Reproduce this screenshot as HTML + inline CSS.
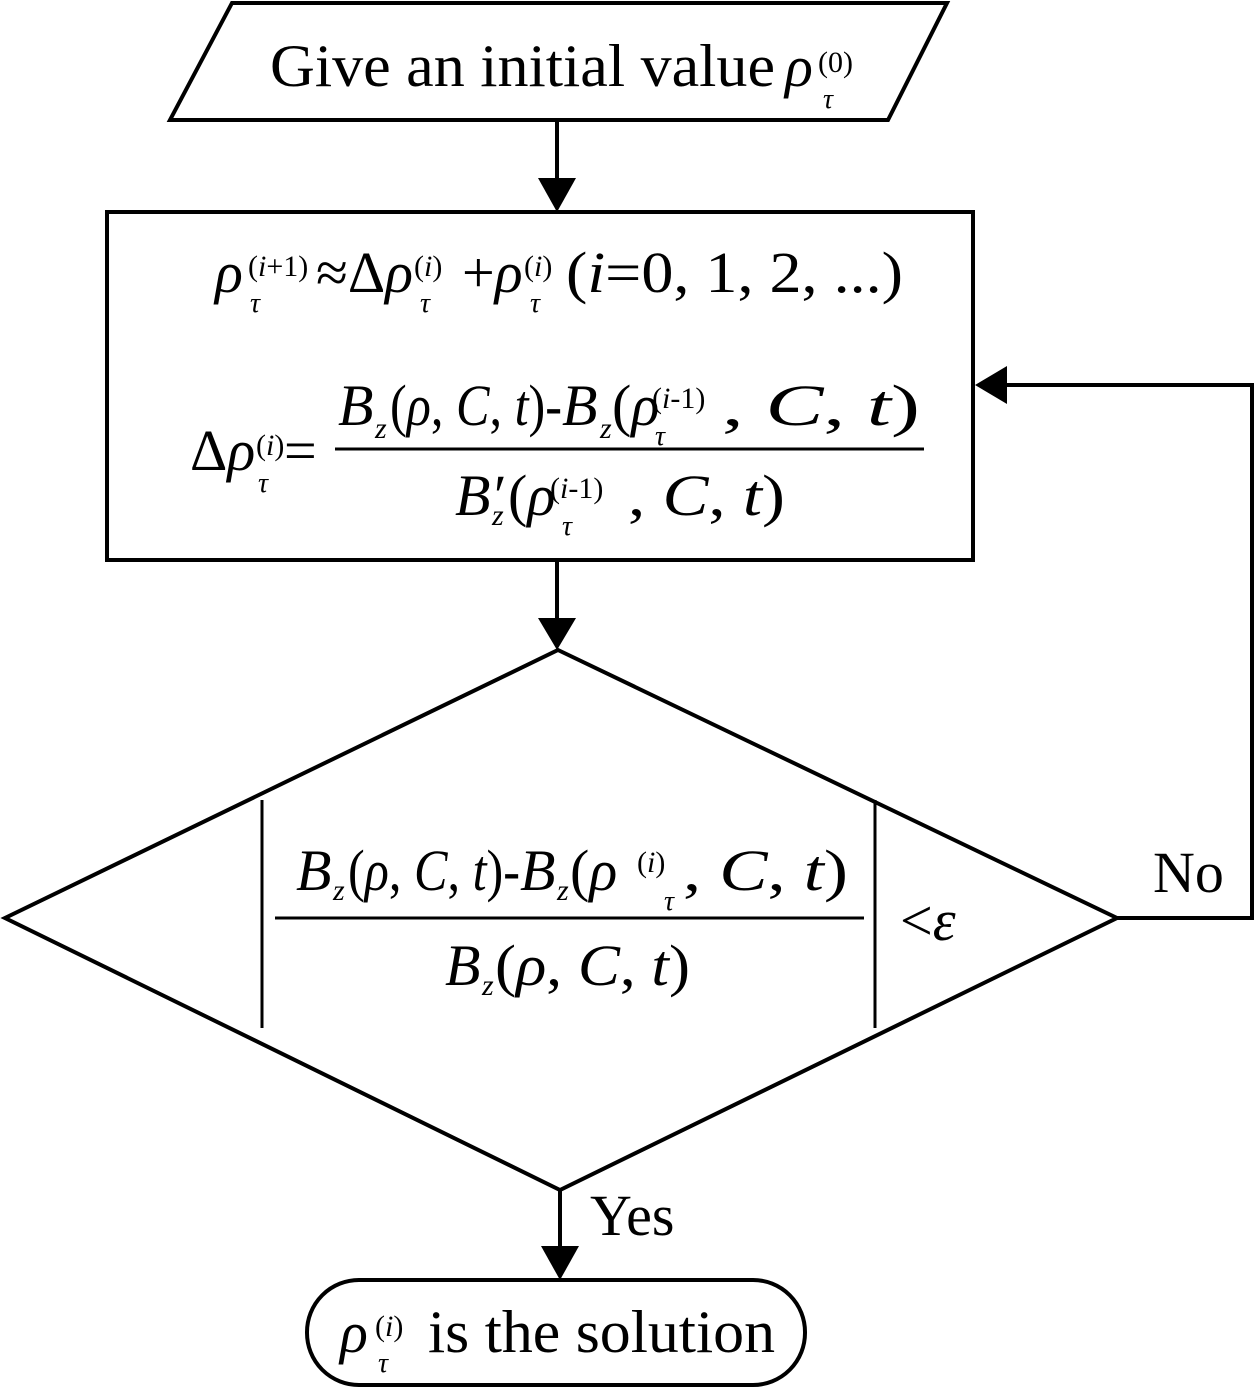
<!DOCTYPE html>
<html><head><meta charset="utf-8"><style>html,body{margin:0;padding:0;background:#fff}svg{display:block}text{font-family:"Liberation Serif",serif;fill:#000}.i{font-style:italic}</style></head><body>
<svg width="1257" height="1389" viewBox="0 0 1257 1389" xmlns="http://www.w3.org/2000/svg">
<g fill="none" stroke="#000" stroke-width="4">
<polygon points="232,3 947,3 888,120 170,120"/>
<rect x="107" y="212" width="866" height="348"/>
<polygon points="558,650 1117,918 560,1190 5,918"/>
<rect x="307" y="1280" width="498" height="105" rx="52" ry="52"/>
<line x1="557" y1="120" x2="557" y2="180"/>
<line x1="557" y1="560" x2="557" y2="620"/>
<line x1="560" y1="1190" x2="560" y2="1248"/>
<polyline points="1117,918 1252,918 1252,385 1005,385"/>
<line x1="262" y1="800" x2="262" y2="1028" stroke-width="3"/>
<line x1="875" y1="800" x2="875" y2="1028" stroke-width="3"/>
<line x1="335" y1="449" x2="924" y2="449" stroke-width="3"/>
<line x1="275" y1="918" x2="864" y2="918" stroke-width="3"/>
</g>
<g fill="#000">
<polygon points="538,178 576,178 557,212"/>
<polygon points="538,618 576,618 557,650"/>
<polygon points="541,1246 579,1246 560,1280"/>
<polygon points="1007,366 1007,404 975,385"/>
</g>
<text x="270" y="86" font-size="60" textLength="505" lengthAdjust="spacingAndGlyphs">Give an initial value</text>
<text x="785" y="86" font-size="58" class="i">ρ</text><text x="818" y="72" font-size="30">(0)</text><text x="823" y="108" font-size="28" class="i">τ</text>

<text x="215" y="292" font-size="58" class="i">ρ</text><text x="248" y="276" font-size="30">(<tspan class="i">i</tspan>+1)</text><text x="250" y="312" font-size="28" class="i">τ</text>
<text x="316" y="292" font-size="58">≈Δ<tspan class="i">ρ</tspan></text><text x="414" y="276" font-size="30">(<tspan class="i">i</tspan>)</text><text x="420" y="312" font-size="28" class="i">τ</text>
<text x="462" y="292" font-size="58">+<tspan class="i">ρ</tspan></text><text x="524" y="276" font-size="30">(<tspan class="i">i</tspan>)</text><text x="530" y="312" font-size="28" class="i">τ</text>
<text x="566" y="292" font-size="58" textLength="337" lengthAdjust="spacingAndGlyphs">(<tspan class="i">i</tspan>=0, 1, 2, ...)</text>

<text x="190" y="470" font-size="58">Δ<tspan class="i">ρ</tspan></text><text x="256" y="455" font-size="30">(<tspan class="i">i</tspan>)</text><text x="258" y="492" font-size="28" class="i">τ</text><text x="284" y="470" font-size="58">=</text>
<text x="338" y="425" font-size="58" class="i">B</text><text x="375" y="438" font-size="30" class="i">z</text>
<text x="390" y="425" font-size="58" textLength="172" lengthAdjust="spacingAndGlyphs">(<tspan class="i">ρ</tspan>, <tspan class="i">C</tspan>, <tspan class="i">t</tspan>)-</text>
<text x="562" y="425" font-size="58" class="i">B</text><text x="600" y="438" font-size="30" class="i">z</text>
<text x="612" y="425" font-size="58">(<tspan class="i">ρ</tspan></text><text x="652" y="408" font-size="30">(<tspan class="i">i</tspan>-1)</text><text x="655" y="445" font-size="28" class="i">τ</text>
<text x="722" y="425" font-size="58" textLength="198" lengthAdjust="spacingAndGlyphs">, <tspan class="i">C</tspan>, <tspan class="i">t</tspan>)</text>
<text x="455" y="515" font-size="58" class="i">B′</text><text x="492" y="525" font-size="30" class="i">z</text>
<text x="508" y="515" font-size="58">(<tspan class="i">ρ</tspan></text><text x="550" y="498" font-size="30">(<tspan class="i">i</tspan>-1)</text><text x="562" y="535" font-size="28" class="i">τ</text>
<text x="628" y="515" font-size="58" textLength="157" lengthAdjust="spacingAndGlyphs">, <tspan class="i">C</tspan>, <tspan class="i">t</tspan>)</text>

<text x="296" y="890" font-size="58" class="i">B</text><text x="333" y="900" font-size="30" class="i">z</text>
<text x="348" y="890" font-size="58" textLength="172" lengthAdjust="spacingAndGlyphs">(<tspan class="i">ρ</tspan>, <tspan class="i">C</tspan>, <tspan class="i">t</tspan>)-</text>
<text x="520" y="890" font-size="58" class="i">B</text><text x="557" y="900" font-size="30" class="i">z</text>
<text x="570" y="890" font-size="58">(<tspan class="i">ρ</tspan></text><text x="637" y="872" font-size="30">(<tspan class="i">i</tspan>)</text><text x="664" y="910" font-size="28" class="i">τ</text>
<text x="683" y="890" font-size="58" textLength="165" lengthAdjust="spacingAndGlyphs">, <tspan class="i">C</tspan>, <tspan class="i">t</tspan>)</text>
<text x="445" y="985" font-size="58" class="i">B</text><text x="482" y="995" font-size="30" class="i">z</text>
<text x="495" y="985" font-size="58" textLength="195" lengthAdjust="spacingAndGlyphs">(<tspan class="i">ρ</tspan>, <tspan class="i">C</tspan>, <tspan class="i">t</tspan>)</text>
<text x="900" y="940" font-size="58">&lt;<tspan class="i">ε</tspan></text>

<text x="1153" y="892" font-size="58">No</text>
<text x="590" y="1235" font-size="58">Yes</text>

<text x="340" y="1352" font-size="58" class="i">ρ</text><text x="375" y="1336" font-size="30">(<tspan class="i">i</tspan>)</text><text x="378" y="1372" font-size="28" class="i">τ</text>
<text x="428" y="1352" font-size="60" textLength="347" lengthAdjust="spacingAndGlyphs">is the solution</text>
</svg>
</body></html>
